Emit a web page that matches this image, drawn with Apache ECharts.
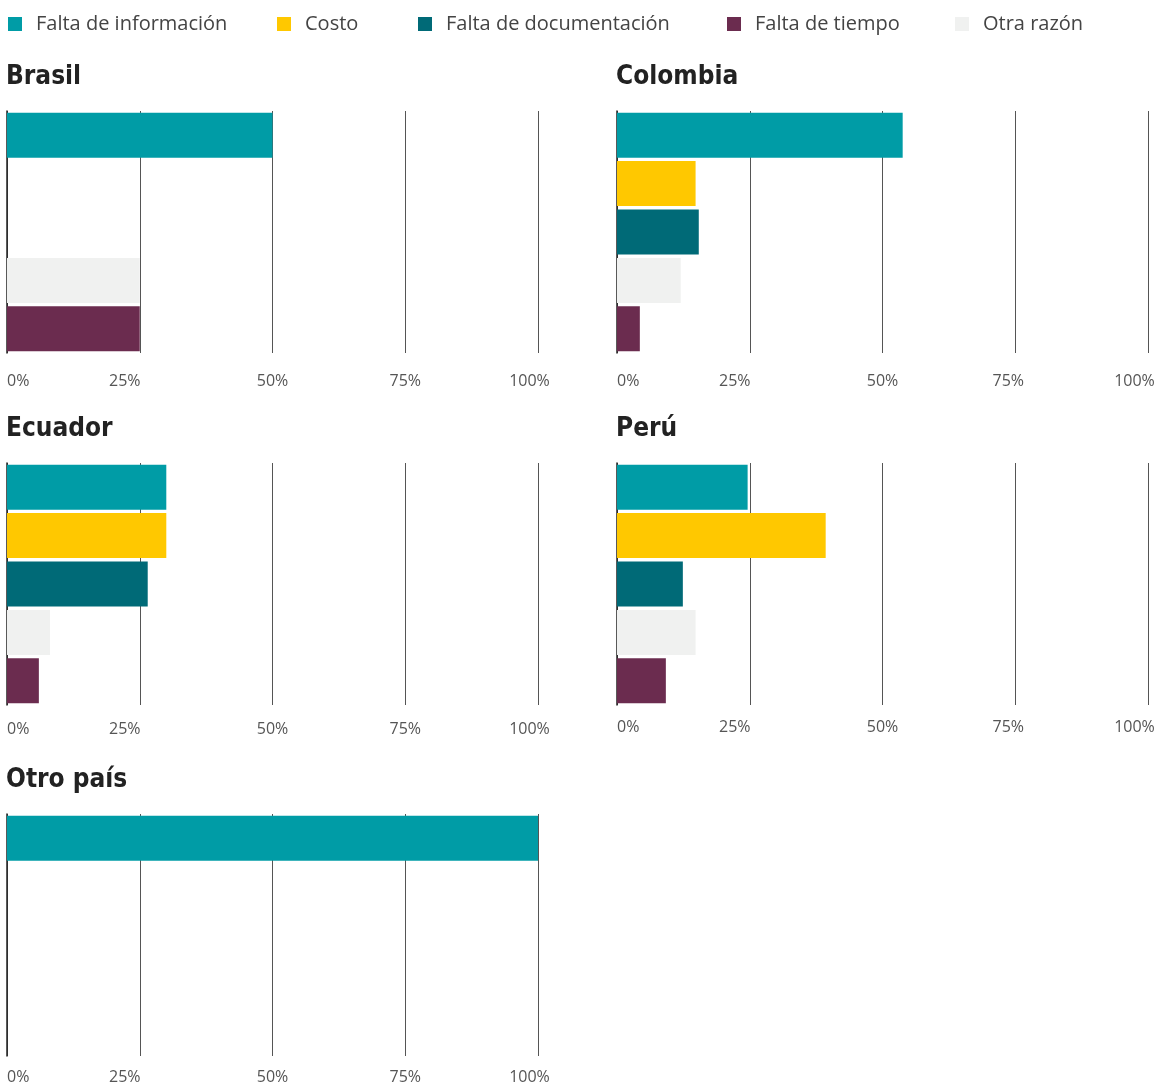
<!DOCTYPE html>
<html>
<head>
<meta charset="utf-8">
<script src="https://cdn.jsdelivr.net/npm/echarts@6/dist/echarts.min.js"></script>
<style>
  html, body { margin: 0; padding: 0; background: #fff; }
  #chart { width: 1156px; height: 1084px; }
</style>
</head>
<body>
<div id="chart"></div>
<script>
// Reasons (legend / bar order top to bottom)
const reasons = ['Falta de información', 'Costo', 'Falta de documentación', 'Otra razón', 'Falta de tiempo'];
const countries = ['Brasil', 'Colombia', 'Ecuador', 'Perú', 'Otro país'];

// Share of answers per country, same order as reasons (%)
const brasil   = [50, 0, 0, 25, 25];
const colombia = [53.8, 14.8, 15.4, 12, 4.3];
const ecuador  = [30, 30, 26.5, 8.1, 6];
const peru     = [24.6, 39.3, 12.4, 14.8, 9.2];
const otroPais = [100, 0, 0, 0, 0];
const values = [brasil, colombia, ecuador, peru, otroPais];

const colors = ['#009ca6', '#ffc800', '#006a77', '#f0f1f0', '#6b2c4f'];

// panel layout (labelMargin / shift75 / shift100 nudge tick labels like the original)
const panels = [
  { left: 7,   top: 111, labelMargin: 20, shift75: 0,  shift100: 17 },
  { left: 617, top: 111, labelMargin: 20, shift75: 14, shift100: 27 },
  { left: 7,   top: 463, labelMargin: 16, shift75: 0,  shift100: 17 },
  { left: 617, top: 463, labelMargin: 14, shift75: 14, shift100: 27 },
  { left: 7,   top: 814, labelMargin: 13, shift75: 0,  shift100: 17 }
];
const panelW = 531, panelH = 242;

const chart = echarts.init(document.getElementById('chart'));

const grids = [], xAxes = [], yAxes = [], titles = [], series = [];

const labelFont = { fontFamily: '"Open Sans", sans-serif', fontSize: 16, color: '#555' };

panels.forEach((p, i) => {
  grids.push({
    left: p.left, top: p.top, width: panelW, height: panelH,
    containLabel: false, outerBoundsMode: 'none'
  });
  titles.push({
    text: countries[i],
    left: p.left - 1,
    top: p.top - 47,
    padding: 0,
    textStyle: {
      fontFamily: '"DejaVu Sans Condensed", sans-serif',
      fontSize: 26,
      fontWeight: 'bold',
      color: '#222'
    }
  });
  xAxes.push({
    type: 'value',
    gridIndex: i,
    min: 0,
    max: 100,
    interval: 25,
    axisLine: { show: false },
    axisTick: { show: false },
    splitLine: { show: true, lineStyle: { color: '#555', width: 1 } },
    axisLabel: Object.assign({
      margin: p.labelMargin,
      alignMinLabel: 'left',
      formatter: v => {
        if (v === 25) return '{r|25%}';
        if (v === 75) return '{t|75%}';
        if (v === 100) return '{e|100%}';
        return v + '%';
      },
      rich: {
        r: Object.assign({ padding: [0, 30, 0, 0] }, labelFont),
        t: Object.assign({ padding: [0, p.shift75, 0, 0] }, labelFont),
        e: Object.assign({ padding: [0, p.shift100, 0, 0] }, labelFont)
      }
    }, labelFont)
  });
  yAxes.push({
    type: 'category',
    gridIndex: i,
    inverse: true,
    data: reasons,
    axisLabel: { show: false },
    axisTick: { show: false },
    axisLine: { show: true, lineStyle: { color: '#222', width: 1.5 } }
  });
  reasons.forEach((name, j) => {
    series.push({
      type: 'bar',
      name: name,
      xAxisIndex: i,
      yAxisIndex: i,
      stack: 'c' + i,
      barWidth: 45,
      itemStyle: { color: colors[j] },
      data: reasons.map((_, k) => (k === j ? values[i][j] : '-'))
    });
  });
});

const legendLeft = [8, 277, 418, 727, 955];
const legendOrder = ['Falta de información', 'Costo', 'Falta de documentación', 'Falta de tiempo', 'Otra razón'];
const legends = legendOrder.map((name, i) => ({
  data: [name],
  left: legendLeft[i],
  top: 14,
  padding: 0,
  icon: 'rect',
  itemWidth: 14,
  itemHeight: 14,
  selectedMode: false,
  textStyle: {
    fontFamily: '"Open Sans", sans-serif',
    fontSize: 20,
    color: '#444',
    padding: [0, 0, 0, 9]
  }
}));

chart.setOption({
  animation: false,
  color: colors,
  title: titles,
  legend: legends,
  grid: grids,
  xAxis: xAxes,
  yAxis: yAxes,
  series: series
});
</script>
</body>
</html>
